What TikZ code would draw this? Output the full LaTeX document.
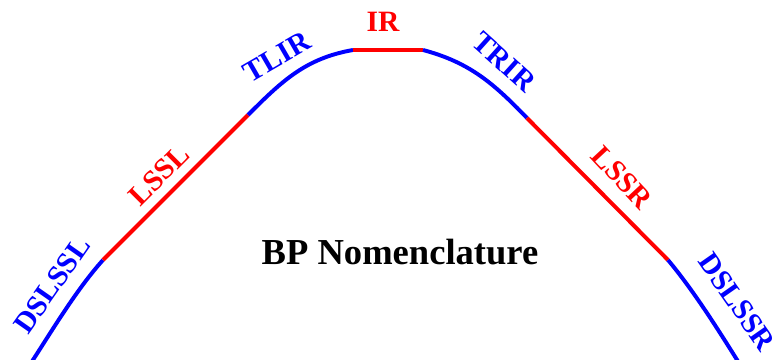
\documentclass[tikz,border=0pt]{standalone}
\usepackage{fontspec}
\setmainfont{Liberation Serif}
\begin{document}
\begin{tikzpicture}[x=0.025cm, y=0.025cm,
      recta/.style={draw=red, line width=2.8pt},
      curva/.style={draw=blue, line width=2.8pt},
      etqRoja/.style={text=red, font=\fontsize{21}{25}\selectfont\bfseries, inner sep=0pt},
      etqAzul/.style={text=blue, font=\fontsize{21}{25}\selectfont\bfseries, inner sep=0pt},
      titulo/.style={font=\fontsize{26}{31}\selectfont\bfseries, inner sep=0pt}
    ]
    \useasboundingbox (0,0) rectangle (778,360);
    % --- puntos de union ---
    \coordinate (p0) at (31,-3);
    \coordinate (p1) at (103,100);
    \coordinate (p2) at (248,245);
    \coordinate (p3) at (353,310);
    \coordinate (p4) at (423,310);
    \coordinate (p5) at (527,242);
    \coordinate (p6) at (668,100);
    \coordinate (p7) at (739,-3);

    % --- tramos ---
    \draw[curva] (p0) to[out=57, in=228, looseness=0.8] (p1);
    \draw[recta] (p1) -- (p2);
    \draw[curva] (p2) to[out=45, in=190] (p3);
    \draw[recta] (p3) -- (p4);
    \draw[curva] (p4) to[out=-15, in=134] (p5);
    \draw[recta] (p5) -- (p6);
    \draw[curva] (p6) to[out=-50, in=122, looseness=0.8] (p7);

    % --- etiquetas ---
    \node[etqAzul, rotate=55] (dslssl) at (52,75) {DSLSSL};
    \node[etqRoja, rotate=45] (lssl) at (159,185) {LSSL};
    \node[etqAzul, rotate=30] (tlir) at (277,303) {TLIR};
    \node[etqRoja] (ir) at (383,338) {IR};
    \node[etqAzul, rotate=-42] (trir) at (504,298) {TRIR};
    \node[etqRoja, rotate=-47] (lssr) at (622,182) {LSSR};
    \node[etqAzul, rotate=-55] (dslssr) at (737,58) {DSLSSR};
    \node[titulo] (nombre) at (400,108) {BP Nomenclature};
  \end{tikzpicture}
\end{document}
